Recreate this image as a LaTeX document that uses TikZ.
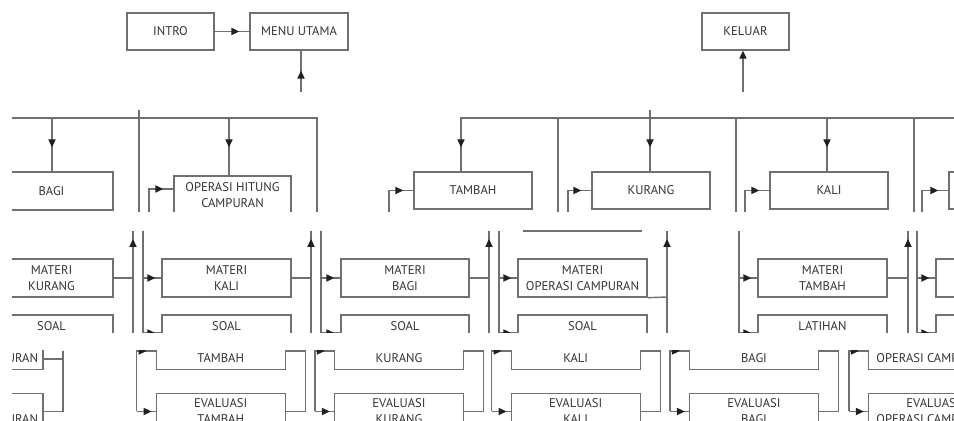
\documentclass[tikz,border=0pt]{standalone}
\usepackage{fontspec}
\newfontfamily\diafont{PT Sans}
\usetikzlibrary{arrows.meta,decorations.markings}
\definecolor{linegray}{HTML}{707070}
\definecolor{textgray}{HTML}{333333}
\definecolor{tipgray}{HTML}{202020}
\tikzset{
  box/.style={draw=linegray, line width=0.7pt, text=textgray, align=center, inner sep=0pt,
    font=\diafont\fontsize{6.3}{8}\selectfont},
  wd/.style={minimum width=#1*0.5pt},
  ht/.style={minimum height=#1*0.5pt},
  conn/.style={draw=linegray, color=linegray, line width=0.7pt},
  tipstyle/.tip={Triangle[length=4pt,width=3.6pt,color=tipgray]},
  arrowat/.style={postaction={decorate}, decoration={markings,
    mark=at position #1 with {\arrow{tipstyle}}}},
}

\begin{document}
\begin{tikzpicture}[x=0.5pt, y=-0.5pt]
  \useasboundingbox (0,0) rectangle (954,421);

  % Top
  \node[box, wd=87, ht=37] (intro) at (170.5,31.5) {INTRO};
  \node[box, wd=98, ht=37] (menu) at (299,31.5) {MENU UTAMA};
  \node[box, wd=87, ht=37] (keluar) at (745.5,31.5) {KELUAR};
  \coordinate (menuin) at (301,92);
  \coordinate (keluarin) at (743,92);
  \draw[conn, arrowat=-5pt] (intro) -- (menu);
  \draw[conn, arrowat=-10pt] (menuin) -- (menuin |- menu.south);
  \draw[conn, -tipstyle] (keluarin) -- (keluarin |- keluar.south);

  % Upper band
  \begin{scope}
    \clip (12,0) rectangle (954,212);
    \node[box, wd=123, ht=38] (bagi) at (51.5,191) {BAGI};
    \node[box, wd=117, ht=38] (campur) at (232.5,195) {OPERASI HITUNG\\CAMPURAN};
    \node[box, wd=118, ht=37] (tambah) at (473,190.5) {TAMBAH};
    \node[box, wd=118, ht=37] (kurang) at (651,190.5) {KURANG};
    \node[box, wd=118, ht=37] (kali) at (829,190.5) {KALI};
    \node[box, wd=118, ht=37] (ujung) at (1008,190.5) {};

    \coordinate (dBagi) at (52,118);
    \coordinate (dCampur) at (229,118);
    \coordinate (dTambah) at (461,118);
    \coordinate (dKurang) at (650,110);
    \coordinate (dKali) at (827,118);

    \draw[conn] (12,118) -- (317,118) -- (317,212);
    \draw[conn] (139,110) -- (139,212);
    \draw[conn, arrowat=-12pt] (dBagi) -- (dBagi |- bagi.north);
    \draw[conn, arrowat=-14pt] (dCampur) -- (dCampur |- campur.north);
    \draw[conn, arrowat=-12pt] (954,118) -- (dTambah) -- (dTambah |- tambah.north);
    \draw[conn, arrowat=-12pt] (dKurang) -- (dKurang |- kurang.north);
    \draw[conn, arrowat=-12pt] (dKali) -- (dKali |- kali.north);
    \draw[conn] (558,118) -- (558,212);
    \draw[conn] (736,118) -- (736,212);
    \draw[conn] (914,118) -- (914,212);

    % feedback
    \draw[conn, arrowat=-5pt] (149,212) |- ([yshift=3pt]campur.west);
    \draw[conn, arrowat=-5pt] (389,212) |- (tambah.west);
    \draw[conn, arrowat=-5pt] (568,212) |- (kurang.west);
    \draw[conn, arrowat=-5pt] (745,212) |- (kali.west);
    \draw[conn, arrowat=-5pt] (922,212) |- (ujung.west);
  \end{scope}

  % Middle band
  \begin{scope}
    \clip (12,229.5) rectangle (954,332.5);
    \node[box, wd=123, ht=38] (mKurang) at (51.5,278) {MATERI\\KURANG};
    \node[box, wd=129, ht=38] (mKali) at (226.5,278) {MATERI\\KALI};
    \node[box, wd=128, ht=38] (mBagi) at (405,278) {MATERI\\BAGI};
    \node[box, wd=129, ht=38] (mCampur) at (582.5,278) {MATERI\\OPERASI CAMPURAN};
    \node[box, wd=129, ht=38] (mTambah) at (822.5,278) {MATERI\\TAMBAH};
    \node[box, wd=129, ht=38] (mUjung) at (1000.5,278) {};

    \node[box, wd=123, ht=22] (sKurang) at (51.5,326) {SOAL};
    \node[box, wd=129, ht=22] (sKali) at (226.5,326) {SOAL};
    \node[box, wd=128, ht=22] (sBagi) at (405,326) {SOAL};
    \node[box, wd=129, ht=22] (sCampur) at (582.5,326) {SOAL};
    \node[box, wd=129, ht=22] (lTambah) at (822.5,326) {LATIHAN};
    \node[box, wd=129, ht=22] (sUjung) at (1000.5,326) {};

    % return lines
    \foreach \x in {133,311,489,667,908}
      \draw[conn, arrowat=-4pt] (\x,333) -- (\x,231);
    \draw[conn] (mKurang.east) -- (133,278);
    \draw[conn] (mKali.east) -- (311,278);
    \draw[conn] (mBagi.east) -- (489,278);
    \draw[conn] (mCampur.south east) -- (667,297);
    \draw[conn] (mTambah.east) -- (908,278);
    \draw[conn] (523,231) -- (642,231);

    % entry lines
    \foreach \x in {143,321,499,739,917}
      \draw[conn] (\x,231) -- (\x,333);
    \draw[conn, arrowat=-3pt] (143,278) -- (mKali.west);
    \draw[conn, arrowat=-3pt] (321,278) -- (mBagi.west);
    \draw[conn, arrowat=-3pt] (499,278) -- (mCampur.west);
    \draw[conn, arrowat=-3pt] (739,278) -- (mTambah.west);
    \draw[conn, arrowat=-3pt] (917,278) -- (mUjung.west);
    \draw[conn, arrowat=-3pt] (143,333) -- (sKali.west |- 0,333);
    \draw[conn, arrowat=-3pt] (321,333) -- (sBagi.west |- 0,333);
    \draw[conn, arrowat=-3pt] (499,333) -- (sCampur.west |- 0,333);
    \draw[conn, arrowat=-3pt] (739,333) -- (lTambah.west |- 0,333);
    \draw[conn, arrowat=-3pt] (917,333) -- (sUjung.west |- 0,333);
  \end{scope}

  % Lower band
  \begin{scope}
    \clip (12,350.3) rectangle (954,421);
    \node[box, wd=123, ht=22.6] (t0) at (-18.5,358) {OPERASI CAMPURAN};
    \node[box, wd=123, ht=36.4] (e0) at (-18.5,411.5) {EVALUASI\\OPERASI CAMPURAN};
    \draw[conn] (t0.east |- 0,359) -- (63,359);
    \draw[conn] (63,351) -- (63,411.5) -- (e0.east);

    \foreach \l/\n/\lbl in {136.7/1/TAMBAH, 315/2/KURANG, 491.7/3/KALI,
                           670/4/BAGI, 849/5/OPERASI CAMPURAN} {
      \node[box, wd=129, ht=22.6] (t\n) at (\l+84,358) {\lbl};
      \node[box, wd=129, ht=36.4] (e\n) at (\l+84,411.5) {EVALUASI\\\lbl};
      \draw[conn, arrowat=-4.5pt] (\l,411.5) -- (\l,351) -- (t\n.west |- 0,351);
      \draw[conn, arrowat=-2pt] (\l,411.5) -- (e\n.west);
      \draw[conn] (t\n.east |- 0,351) -- (\l+168.5,351) -- (\l+168.5,411.5) -- (e\n.east);
    }
  \end{scope}
\end{tikzpicture}
\end{document}
